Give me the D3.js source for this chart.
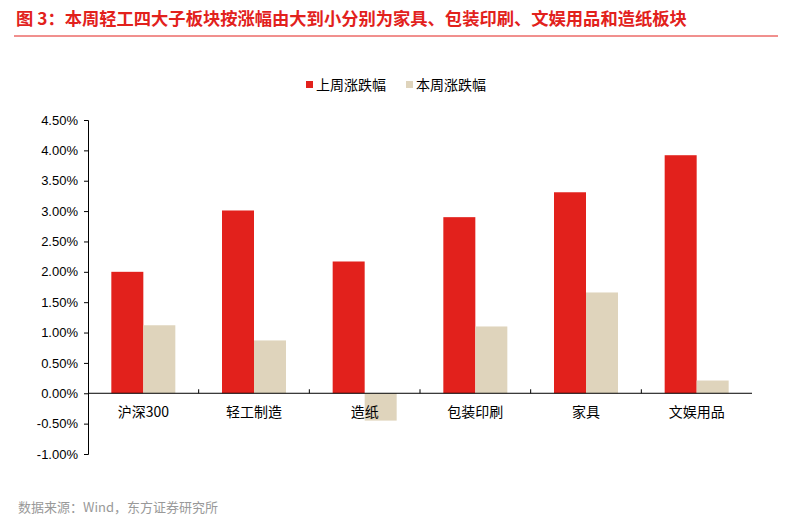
<!DOCTYPE html>
<html><head><meta charset="utf-8">
<script src="https://cdn.jsdelivr.net/npm/d3@7"></script>
<style>body{margin:0;background:#fff;font-family:"Noto Sans CJK SC",sans-serif}</style>
</head><body><svg id="c" width="792" height="520"></svg>
<script>
const categories=["沪深300","轻工制造","造纸","包装印刷","家具","文娱用品"];
const lastWeek=[2.00,3.01,2.17,2.90,3.31,3.92];
const thisWeek=[1.12,0.87,-0.45,1.10,1.66,0.21];
const seriesNames=["上周涨跌幅","本周涨跌幅"];
const yTicks=[-1,-0.5,0,0.5,1,1.5,2,2.5,3,3.5,4,4.5];
const colors=["#e2211c","#dfd4bc"];
const svg=d3.select("#c");
const f="'Noto Sans CJK SC',sans-serif";
svg.append("text").attr("x",16).attr("y",25).attr("fill","#e2211c").attr("font-size",17.3).attr("font-weight","bold").attr("font-family",f)
 .text("图 3：本周轻工四大子板块按涨幅由大到小分别为家具、包装印刷、文娱用品和造纸板块");
svg.append("line").attr("x1",14).attr("x2",778).attr("y1",36).attr("y2",36).attr("stroke","#e2211c").attr("stroke-width",1);
const L=88,R=752;
const y=d3.scaleLinear().domain([-1,4.5]).range([454,120]);
const x=d3.scaleBand().domain(categories).range([L,R]);
const bw=32;
const g=svg.append("g");
[lastWeek,thisWeek].forEach((vals,si)=>{
 g.selectAll(null).data(vals).enter().append("rect")
  .attr("x",(d,i)=>x(categories[i])+x.bandwidth()/2-bw+si*bw)
  .attr("width",bw)
  .attr("y",d=>y(Math.max(0,d)))
  .attr("height",d=>Math.abs(y(d)-y(0)))
  .attr("fill",colors[si]);
});
const ya=svg.append("g").attr("transform",`translate(${L},0)`)
 .call(d3.axisLeft(y).tickValues(yTicks).tickSize(4).tickFormat(d=>d.toFixed(2)+"%"));
ya.selectAll("text").attr("font-size",13).attr("font-family","Arial,'Liberation Sans',sans-serif").attr("fill","#000").attr("dx",-3);
ya.select(".domain").attr("stroke","#000");
ya.selectAll("line").attr("stroke","#000");
const xa=svg.append("g").attr("transform",`translate(0,${y(0)})`);
xa.append("line").attr("x1",L).attr("x2",R).attr("stroke","#000");
categories.forEach((c,i)=>{ if(i>0) xa.append("line").attr("x1",x(c)).attr("x2",x(c)).attr("y1",0).attr("y2",-4).attr("stroke","#000");
 xa.append("text").attr("x",x(c)+x.bandwidth()/2).attr("y",24).attr("text-anchor","middle").attr("font-size",14).attr("font-family",f).text(c);});
const lg=svg.append("g");
[[306,seriesNames[0]],[406,seriesNames[1]]].forEach(([lx,t],i)=>{
 lg.append("rect").attr("x",lx).attr("y",81).attr("width",7).attr("height",7).attr("fill",colors[i]);
 lg.append("text").attr("x",lx+10).attr("y",90).attr("font-size",14).attr("font-family",f).text(t);
});
svg.append("text").attr("x",18).attr("y",512).attr("font-size",13).attr("fill","#999").attr("font-family",f).text("数据来源：Wind，东方证券研究所");
</script></body></html>
